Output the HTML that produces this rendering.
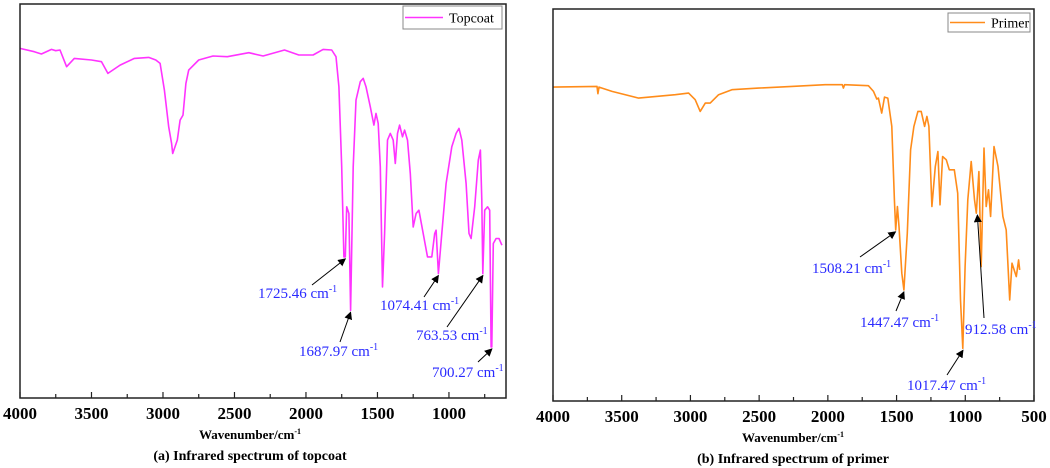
<!DOCTYPE html>
<html><head><meta charset="utf-8"><style>
html,body{margin:0;padding:0;background:#fff;}
svg{display:block;font-family:"Liberation Serif",serif;}
.tick{font-weight:bold;font-size:17px;text-anchor:middle;}
.ttl{font-weight:bold;font-size:13px;text-anchor:middle;}
.cap{font-weight:bold;font-size:14px;text-anchor:middle;}
.ann{fill:#2a2aff;font-size:15px;}
.leg{font-size:14px;}
</style></head><body>
<svg id="chart" width="1050" height="468" viewBox="0 0 1050 468">
<defs><marker id="ah" markerWidth="8" markerHeight="8" refX="7" refY="4" orient="auto" markerUnits="userSpaceOnUse"><path d="M0,0 L8,4 L0,8 Z" fill="#000"/></marker></defs>
</svg>
<script>
// ---- Panel (a) Topcoat data ----
const topWn = [4000,3900,3850,3780,3750,3720,3674,3620,3500,3430,3385,3300,3200,3100,3050,3020,2990,2960,2940,2932,2900,2880,2860,2840,2820,2750,2650,2550,2400,2300,2150,2050,1950,1880,1820,1790,1770,1750,1735,1725,1715,1700,1688,1670,1650,1620,1600,1580,1550,1525,1510,1495,1480,1465,1450,1430,1410,1390,1375,1360,1345,1325,1310,1290,1270,1250,1230,1210,1180,1150,1120,1100,1090,1074,1050,1020,980,950,930,910,880,860,845,820,795,780,770,763,750,730,715,705,700,690,670,650,630];
const topVal = [1048,1038,1031,1045,1041,1043,993,1018,1013,1008,973,998,1018,1021,1013,1003,923,813,763,733,773,833,848,943,983,1013,1025,1023,1035,1025,1043,1028,1028,1045,1043,1023,933,693,423,423,573,553,263,693,893,948,958,933,873,818,853,823,693,333,493,773,793,773,703,793,818,783,803,773,673,513,553,563,493,423,423,493,503,373,493,643,753,793,808,773,643,493,478,573,713,743,593,373,563,573,563,153,153,463,478,478,458];
// ---- Panel (b) Primer data ----
const priWn = [4000,3680,3673,3665,3571,3377,3110,3013,2965,2929,2892,2856,2795,2698,2505,2262,2020,1895,1887,1878,1705,1668,1644,1632,1608,1588,1564,1535,1516,1506,1494,1482,1462,1447,1422,1398,1374,1345,1321,1296,1279,1265,1243,1218,1199,1184,1165,1138,1116,1080,1055,1035,1018,1001,982,957,933,920,901,884,864,848,831,816,791,762,726,702,677,660,629,612,604];
const priVal = [941,943,921,941,928,908,918,923,903,868,893,893,918,933,938,943,948,948,938,948,945,928,905,908,863,911,908,823,603,513,583,523,383,333,503,753,823,868,868,823,853,823,583,703,748,588,733,723,693,693,623,303,158,403,603,718,603,563,688,403,758,583,633,553,763,703,553,513,303,413,373,423,393];
const topTicks = [4000,3500,3000,2500,2000,1500,1000];
const priTicks = [4000,3500,3000,2500,2000,1500,1000,500];
const topAnn = [["1725.46",1725],["1687.97",1688],["1074.41",1074],["763.53",763],["700.27",700]];
const priAnn = [["1508.21",1508],["1447.47",1447],["1017.47",1017],["912.58",912]];

const NS="http://www.w3.org/2000/svg";
const svg=document.getElementById('chart');
function mk(tag,attrs,parent){const e=document.createElementNS(NS,tag);for(const k in attrs)e.setAttribute(k,attrs[k]);(parent||svg).appendChild(e);return e;}

function panel(cfg){
  const g=mk('g',{});
  
  
  const X=w=>cfg.x0+(cfg.wmax-w)/(cfg.wmax-cfg.wmin)*(cfg.x1-cfg.x0);
  const Y=v=>cfg.y1-v/cfg.vmax*(cfg.y1-cfg.y0);
  const d=cfg.wn.map((w,i)=>(i?'L':'M')+X(w).toFixed(1)+','+Y(cfg.val[i]).toFixed(1)).join(' ');
  const p=mk('path',{d:d,fill:'none',stroke:cfg.color,'stroke-width':1.6,'stroke-linejoin':'round'},g);
  
  
  const f=mk('rect',{x:cfg.x0,y:cfg.y0,width:cfg.x1-cfg.x0,height:cfg.y1-cfg.y0,fill:'none',stroke:'#222','stroke-width':1.5},g);
  
  
  for(let w=cfg.wmax;w>=cfg.wmin;w-=250){
    const major=w%500===0;
    mk('line',{x1:X(w),x2:X(w),y1:cfg.y1,y2:cfg.y1-(major?6:4),stroke:'#222','stroke-width':1.2},g);
  }
  cfg.ticks.forEach(t=>{
    const tx=mk('text',{x:X(t),y:cfg.y1+21,class:'tick'},g);tx.textContent=t;
    
    
  });
  const at=mk('text',{x:cfg.tx,y:cfg.y1+41,class:'ttl'},g);
  
  
  at.innerHTML='Wavenumber/cm<tspan dy="-5" font-size="8">-1</tspan>';
  const cp=mk('text',{x:cfg.tx,y:cfg.y1+62,class:'cap'},g);cp.textContent=cfg.caption;
  
  
  const lg=mk('g',{},g);
  
  
  const L=cfg.leg;
  mk('rect',{x:L[0],y:L[1],width:L[2],height:L[3],fill:'#fff',stroke:'#888','stroke-width':1},lg);
  mk('line',{x1:L[0]+2,x2:L[0]+L[4],y1:L[1]+L[3]/2,y2:L[1]+L[3]/2,stroke:cfg.color,'stroke-width':1.6},lg);
  const lt=mk('text',{x:L[0]+L[4]+6,y:L[1]+L[3]/2+5,class:'leg'},lg);lt.textContent=cfg.label;
  cfg.ann.forEach((a,i)=>{
    const pos=cfg.annPos[i];
    const ag=mk('g',{},g);
    
    
    const i0=cfg.wn.reduce((b,w,k)=>Math.abs(w-a[1])<Math.abs(cfg.wn[b]-a[1])?k:b,0);
    const px=X(a[1]),py=Y(cfg.val[i0])+2;
    mk('line',{x1:pos[2],y1:pos[3],x2:px,y2:py,stroke:'#000','stroke-width':1,'marker-end':'url(#ah)'},ag);
    const t=mk('text',{x:pos[0],y:pos[1],class:'ann'},ag);
    t.innerHTML=a[0]+' cm<tspan dy="-6" font-size="10">-1</tspan>';
  });
}
panel({name:'topcoat-panel',series:'topcoat',x0:20,x1:506,y0:4,y1:398,wmax:4000,wmin:601,vmax:1181,
  wn:topWn,val:topVal,color:'#ff33ff',ticks:topTicks,tx:250,caption:'(a) Infrared spectrum of topcoat',
  leg:[403,6,99,23,40],label:'Topcoat',ann:topAnn,
  annPos:[[258,298,312,285],[299,356,340,342],[380,310,424,297],[416,340,447,327],[432,377,478,362]]});
panel({name:'primer-panel',series:'primer',x0:553,x1:1034,y0:9,y1:401,wmax:4000,wmin:500,vmax:1175,
  wn:priWn,val:priVal,color:'#ff8c1a',ticks:priTicks,tx:793,caption:'(b) Infrared spectrum of primer',
  leg:[948,13,82,19,37],label:'Primer',ann:priAnn,
  annPos:[[812,273,860,257],[860,327,896,311],[907,390,947,375],[965,334,984,318]]});
</script>
</body></html>
